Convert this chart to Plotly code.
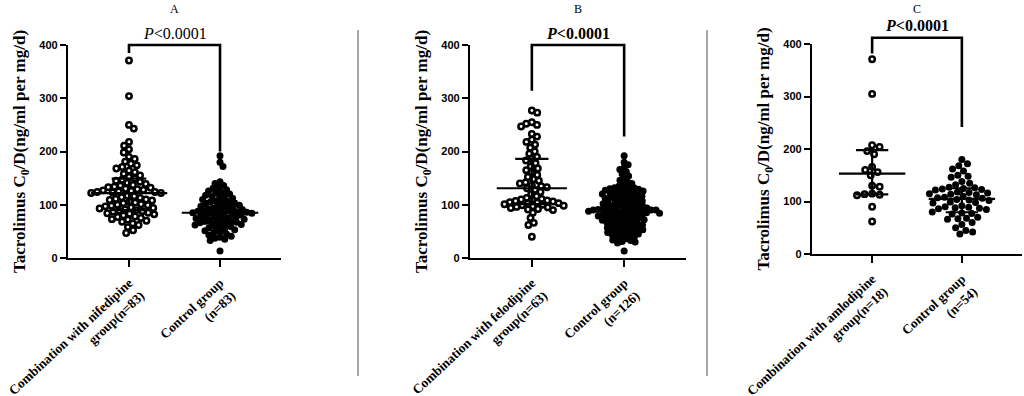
import numpy as np
import plotly.graph_objects as go

# ---------------- data ----------------
panel_titles = ["A", "B", "C"]
p_texts = ["<i>P</i>&lt;0.0001", "<i>P</i>&lt;0.0001", "<i>P</i>&lt;0.0001"]
y_title = "Tacrolimus C<sub>0</sub>/D(ng/ml per mg/d)"
y_ticks = [0, 100, 200, 300, 400]

cats_A = ["Combination with nifedipine<br>group(n=83)", "Control group<br>(n=83)"]
cats_B = ["Combination with felodipine<br>group(n=63)", "Control group<br>(n=126)"]
cats_C = ["Combination with amlodipine<br>group(n=18)", "Control group<br>(n=54)"]

A_combo = [371, 304, 250, 243, 218, 211, 204, 198, 190, 186,
           181, 177, 174, 171, 168, 164, 161, 158, 155, 152,
           149, 147, 145, 143, 141, 139, 137, 136, 134, 133,
           132, 130, 129, 128, 127, 126, 125, 124, 124, 123,
           122, 122, 117, 116, 114, 113, 111, 110, 109, 108,
           106, 104, 103, 101, 100, 99, 98, 97, 95, 94,
           93, 91, 90, 89, 88, 87, 85, 84, 83, 82,
           80, 78, 77, 75, 73, 72, 70, 68, 65, 62,
           58, 52, 47]
A_ctrl = [192, 180, 172, 143, 140, 136, 133, 131, 128, 126,
          124, 122, 120, 118, 117, 115, 113, 112, 110, 108,
          107, 105, 104, 103, 101, 100, 99, 98, 97, 96,
          94, 93, 92, 91, 90, 89, 88, 88, 87, 86,
          86, 85, 84, 84, 83, 82, 81, 80, 79, 78,
          77, 76, 75, 74, 73, 72, 71, 70, 69, 68,
          67, 66, 65, 64, 63, 62, 60, 59, 57, 56,
          54, 53, 51, 49, 47, 45, 43, 41, 39, 37,
          35, 33, 13]
B_combo = [277, 273, 255, 252, 250, 247, 233, 228, 222, 218,
           213, 207, 200, 196, 190, 186, 183, 178, 172, 168,
           165, 160, 156, 152, 148, 145, 142, 140, 137, 135,
           133, 131, 128, 124, 120, 116, 113, 111, 110, 109,
           108, 107, 106, 105, 104, 103, 102, 101, 100, 99,
           98, 97, 96, 95, 94, 92, 91, 90, 85, 75,
           66, 62, 40]
B_ctrl = [192, 180, 175, 170, 166, 162, 158, 154, 150, 146,
          143, 140, 137, 135, 133, 132, 132, 130, 129, 128,
          127, 126, 126, 124, 123, 122, 121, 120, 120, 118,
          117, 116, 115, 114, 113, 112, 112, 110, 109, 108,
          107, 106, 105, 104, 104, 102, 101, 100, 99, 98,
          98, 96, 95, 94, 94, 93, 92, 92, 91, 91,
          90, 90, 90, 89, 89, 88, 87, 87, 86, 85,
          85, 84, 83, 82, 82, 81, 80, 79, 79, 78,
          77, 76, 75, 74, 73, 73, 72, 71, 70, 69,
          68, 67, 66, 65, 64, 63, 62, 61, 60, 59,
          58, 57, 56, 55, 54, 53, 52, 51, 50, 49,
          48, 47, 46, 45, 43, 42, 40, 39, 37, 36,
          34, 33, 31, 30, 28, 13]
C_combo = [371, 305, 207, 204, 196, 190, 166, 160, 156, 150, 130, 128, 115, 114, 113, 112, 90, 62]
C_ctrl = [180, 172, 168, 162, 158, 150, 148, 146, 138, 135,
          132, 127, 126, 125, 124, 123, 122, 118, 117, 116,
          115, 114, 113, 110, 108, 107, 106, 104, 103, 102,
          99, 98, 97, 92, 90, 89, 88, 87, 86, 85,
          80, 78, 77, 76, 70, 68, 67, 66, 60, 56,
          50, 45, 42, 38]

# bracket levels (data units): top, left leg bottom, right leg bottom
brackets = [(400, 385, 200), (400, 314, 228), (412, 382, 242)]

# ---------------- layout geometry ----------------
W, H = 1024, 396
X_RANGE = [-0.67, 1.67]
Y_RANGE = [0, 400]
x_doms_px = [(68, 281), (470, 686), (812, 1022)]
y_doms_px = [(258, 45), (258, 45), (254, 44)]   # (pixel of 0, pixel of 400)
x_doms = [(a / W, b / W) for a, b in x_doms_px]
y_doms = [(1 - a / H, 1 - b / H) for a, b in y_doms_px]
swarm_d = [(6.1, 5.2), (5.8, 4.8), (7.6, 7.0)]

SERIF = "Liberation Serif"
SANS = "Liberation Sans"


def swarm(vals, d_px, xppu, yppu):
    vals = np.asarray(vals, float)
    order = np.argsort(-vals, kind="stable")
    placed = []
    offs = np.zeros(len(vals))
    flip = 1
    for i in order:
        y = vals[i] * yppu
        cands = [0.0]
        ints = []
        for px, py in placed:
            dy = abs(py - y)
            if dy < d_px:
                w = np.sqrt(d_px ** 2 - dy ** 2)
                ints.append((px - w, px + w))
                cands += [px - w, px + w]
        ok = [c for c in cands if all(not (a + 1e-6 < c < b - 1e-6) for a, b in ints)]
        best = min(ok, key=lambda c: (round(abs(c), 3), -flip * c))
        if best != 0:
            flip = -flip
        offs[i] = best / xppu
        placed.append((best, y))
    return offs


def quart(v):
    v = np.asarray(v, float)
    return (np.percentile(v, 25, method="weibull"), np.median(v),
            np.percentile(v, 75, method="weibull"))


def xf(v):
    return (v - X_RANGE[0]) / (X_RANGE[1] - X_RANGE[0])


def yf(v):
    return (v - Y_RANGE[0]) / (Y_RANGE[1] - Y_RANGE[0])


fig = go.Figure()
panels = [(A_combo, A_ctrl, cats_A), (B_combo, B_ctrl, cats_B), (C_combo, C_ctrl, cats_C)]
med_hw = [0.42, 0.38, 0.37]
cap_hw = [0.19, 0.18, 0.18]
shapes = []
annotations = []

for k, (g1, g2, cats) in enumerate(panels):
    xa = "x" if k == 0 else f"x{k+1}"
    ya = "y" if k == 0 else f"y{k+1}"
    xppu = (x_doms_px[k][1] - x_doms_px[k][0]) / (X_RANGE[1] - X_RANGE[0])
    yppu = (y_doms_px[k][0] - y_doms_px[k][1]) / (Y_RANGE[1] - Y_RANGE[0])

    for gi, (g, hollow) in enumerate([(g1, True), (g2, False)]):
        offs = swarm(g, swarm_d[k][gi], xppu, yppu)
        if hollow:
            mk = dict(size=5.4, color="white", line=dict(color="black", width=2.5))
        else:
            mk = dict(size=7, color="black", line=dict(width=0))
        fig.add_trace(go.Scatter(x=gi + offs, y=g, mode="markers", marker=mk,
                                 xaxis=xa, yaxis=ya, showlegend=False, hoverinfo="y"))
    for gi, g in enumerate([g1, g2]):
        q1, med, q3 = quart(g)
        hw, cw = med_hw[k], cap_hw[k]
        fig.add_trace(go.Scatter(
            x=[gi - hw, gi + hw, None, gi, gi, None, gi - cw, gi + cw, None, gi - cw, gi + cw],
            y=[med, med, None, q1, q3, None, q1, q1, None, q3, q3],
            mode="lines", line=dict(color="black", width=2.2),
            xaxis=xa, yaxis=ya, showlegend=False, hoverinfo="skip"))

    # significance bracket, placed in axis-domain units so it is not clipped
    top, lb, rb = brackets[k]
    xd, yd = xa + " domain", ya + " domain"
    shapes.append(dict(type="path", xref=xd, yref=yd,
                       path=(f"M {xf(0)} {yf(lb)} L {xf(0)} {yf(top)} "
                             f"L {xf(1)} {yf(top)} L {xf(1)} {yf(rb)}"),
                       line=dict(color="black", width=2.6)))
    annotations.append(dict(xref=xd, yref=yd, x=xf(0.5), y=yf(top), yshift=12,
                            text=p_texts[k], showarrow=False, yanchor="middle",
                            font=dict(family=SERIF, size=16, color="black",
                                      weight="normal" if k == 0 else "bold")))
    annotations.append(dict(xref=xd, yref="paper", x=0.5, y=1 - 9 / H,
                            text=panel_titles[k], showarrow=False, yanchor="middle",
                            font=dict(family=SERIF, size=12, color="black")))

    axkey = "xaxis" if k == 0 else f"xaxis{k+1}"
    aykey = "yaxis" if k == 0 else f"yaxis{k+1}"
    fig.layout[axkey] = dict(domain=list(x_doms[k]), range=X_RANGE, anchor=ya,
                             tickvals=[0, 1], ticktext=cats, tickangle=-43,
                             ticklabelstandoff=3,
                             showline=True, linecolor="black", linewidth=2.2,
                             ticks="outside", ticklen=7, tickwidth=2.2, tickcolor="black",
                             showgrid=False, zeroline=False, automargin=False,
                             tickfont=dict(family=SERIF, size=13.3, color="black", weight="bold"))
    fig.layout[aykey] = dict(domain=list(y_doms[k]), range=Y_RANGE, anchor=xa,
                             tickvals=y_ticks, showline=True, linecolor="black", linewidth=2.2,
                             ticks="outside", ticklen=6, tickwidth=2.2, tickcolor="black",
                             showgrid=False, zeroline=False, automargin=False,
                             tickfont=dict(family=SANS, size=11, color="black", weight="bold"),
                             title=dict(text=y_title, standoff=9,
                                        font=dict(family=SERIF, size=17, color="black",
                                                  weight="bold")))

# grey separators between panels
for xp in (358, 707):
    shapes.append(dict(type="line", xref="paper", yref="paper", x0=xp / W, x1=xp / W,
                       y0=1 - 30 / H, y1=1 - 376 / H, line=dict(color="#8a8a8a", width=1.5)))

fig.update_layout(width=W, height=H, margin=dict(l=0, r=0, t=0, b=0),
                  paper_bgcolor="white", plot_bgcolor="white",
                  shapes=shapes, annotations=annotations, showlegend=False)
fig.write_html("out.html", config={"displayModeBar": False},
               post_script="document.body.style.margin='0px';")
